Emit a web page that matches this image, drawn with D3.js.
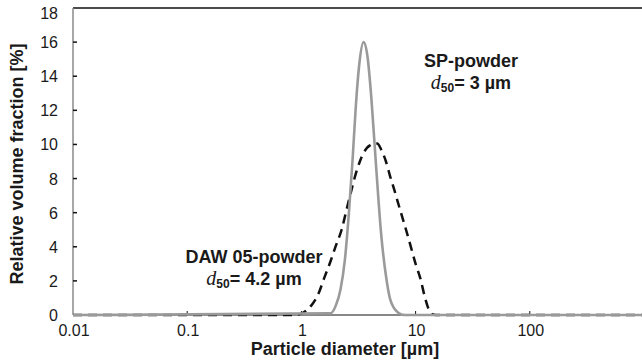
<!DOCTYPE html>
<html>
<head>
<meta charset="utf-8">
<script src="https://cdn.jsdelivr.net/npm/d3@7"></script>
<style>
  body { margin: 0; background: #fff; }
  text { font-family: "Liberation Sans", Arial, sans-serif; fill: #1a1a1a; }
</style>
</head>
<body>
<div id="chart"></div>
<script>
// particle size distributions
const spDiameter = [0.01, 1.8, 2.0, 2.2, 2.4, 2.6, 2.8, 3.0, 3.2, 3.5, 3.8, 4.1, 4.5, 5.0, 5.5, 6.0, 7.0, 8.0, 1000];
const spFraction = [0, 0.1, 0.55, 1.5, 3.2, 5.9, 9.0, 12.3, 14.6, 16.0, 15.1, 12.7, 8.8, 4.7, 2.3, 0.9, 0.15, 0, 0];

const dawDiameter = [0.01, 0.8, 0.9, 1.0, 1.1, 1.25, 1.4, 1.6, 1.8, 2.0, 2.25, 2.5, 2.75, 3.0, 3.25, 3.5, 3.75, 4.0, 4.3, 4.6, 5.0, 5.5, 6.0, 6.5, 7.0, 8.0, 9.0, 10, 11, 12, 13, 14, 15, 1000];
const dawFraction = [0, 0, 0.02, 0.08, 0.25, 0.65, 1.2, 2.25, 3.15, 4.05, 5.0, 6.25, 7.35, 8.3, 9.0, 9.5, 9.8, 9.95, 10.05, 10.05, 9.7, 9.0, 8.1, 7.35, 6.6, 5.3, 4.1, 3.0, 2.15, 1.1, 0.35, 0.05, 0, 0];

const xTicks = [0.01, 0.1, 1, 10, 100];
const yTicks = [0, 2, 4, 6, 8, 10, 12, 14, 16, 18];

const width = 642;
const height = 363;
const margin = {top: 8, left: 73, bottom: 315};

const svg = d3.select("#chart").append("svg")
  .attr("width", width)
  .attr("height", height);

const x = d3.scaleLog().domain([0.01, 1000]).range([margin.left, 644]);
const y = d3.scaleLinear().domain([0, 18]).range([margin.bottom, margin.top]);

// frame: black top + bottom, grey left axis
svg.append("line")
  .attr("x1", x(0.01)).attr("x2", width)
  .attr("y1", y(18)).attr("y2", y(18))
  .attr("stroke", "#111").attr("stroke-width", 1.5);

svg.append("line")
  .attr("x1", x(0.01)).attr("x2", width)
  .attr("y1", y(0)).attr("y2", y(0))
  .attr("stroke", "#111").attr("stroke-width", 1);

svg.append("line")
  .attr("x1", x(0.01)).attr("x2", x(0.01))
  .attr("y1", y(18)).attr("y2", y(0))
  .attr("stroke", "#8a8a8a").attr("stroke-width", 1.5);

// ticks (inside)
svg.append("g").selectAll("line")
  .data(yTicks.slice(1, -1))
  .join("line")
    .attr("x1", x(0.01)).attr("x2", x(0.01) + 4)
    .attr("y1", d => y(d)).attr("y2", d => y(d))
    .attr("stroke", "#111").attr("stroke-width", 1.5);

svg.append("g").selectAll("line")
  .data(xTicks.slice(1))
  .join("line")
    .attr("x1", d => x(d)).attr("x2", d => x(d))
    .attr("y1", y(0)).attr("y2", y(0) - 4)
    .attr("stroke", "#111").attr("stroke-width", 1);

// tick labels
svg.append("g").selectAll("text")
  .data(yTicks)
  .join("text")
    .attr("x", 58)
    .attr("y", d => y(d) + (d === 18 ? 11 : 6))
    .attr("text-anchor", "end")
    .attr("font-size", 16)
    .text(d => d);

svg.append("g").selectAll("text")
  .data(xTicks)
  .join("text")
    .attr("x", d => x(d) + 1)
    .attr("y", 336)
    .attr("text-anchor", "middle")
    .attr("font-size", 16)
    .text(d => d);

// curves
const line = d3.line()
  .x(d => x(d[0]))
  .y(d => y(d[1]))
  .curve(d3.curveMonotoneX);

svg.append("path")
  .datum(d3.zip(dawDiameter, dawFraction))
  .attr("fill", "none")
  .attr("stroke", "#111")
  .attr("stroke-width", 2.5)
  .attr("stroke-dasharray", "9,6")
  .attr("d", line);

svg.append("path")
  .datum(d3.zip(spDiameter, spFraction))
  .attr("fill", "none")
  .attr("stroke", "#9a9a9a")
  .attr("stroke-width", 2.6)
  .attr("d", line);

// axis titles
svg.append("text")
  .attr("x", 345)
  .attr("y", 355)
  .attr("text-anchor", "middle")
  .attr("font-size", 18)
  .attr("font-weight", "bold")
  .text("Particle diameter [µm]");

svg.append("text")
  .attr("transform", "translate(23,164) rotate(-90)")
  .attr("text-anchor", "middle")
  .attr("font-size", 18)
  .attr("font-weight", "bold")
  .text("Relative volume fraction [%]");

// annotations
function label(cx, by, name, d50) {
  svg.append("text")
    .attr("x", cx).attr("y", by)
    .attr("text-anchor", "middle")
    .attr("font-size", 18)
    .attr("font-weight", "bold")
    .text(name);
  const t = svg.append("text")
    .attr("x", cx).attr("y", by + 22)
    .attr("text-anchor", "middle")
    .attr("font-size", 18)
    .attr("font-weight", "bold");
  t.append("tspan")
    .attr("font-family", "'Liberation Serif', 'Times New Roman', serif")
    .attr("font-style", "italic")
    .attr("font-weight", "normal")
    .attr("font-size", 20)
    .text("d");
  t.append("tspan")
    .attr("font-size", 12)
    .attr("dy", 3)
    .text("50");
  t.append("tspan")
    .attr("dy", -3)
    .text("= " + d50 + " µm");
}

label(471, 67, "SP-powder", 3);
label(254, 263, "DAW 05-powder", 4.2);
</script>
</body>
</html>
